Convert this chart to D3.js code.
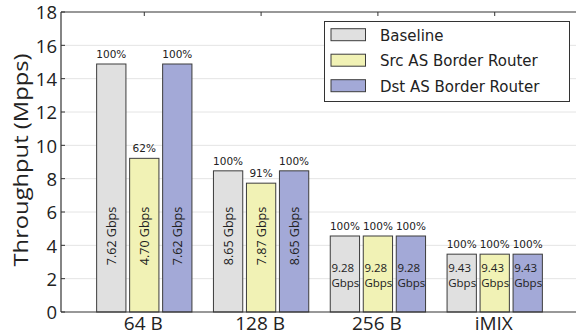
<!DOCTYPE html>
<html><head><meta charset="utf-8">
<script src="https://cdn.jsdelivr.net/npm/d3@7"></script>
<style>body{margin:0;background:#fff}svg{display:block}</style>
</head><body>
<script>
const categories = ["64 B", "128 B", "256 B", "iMIX"];
const seriesNames = ["Baseline", "Src AS Border Router", "Dst AS Border Router"];
const colors = ["#e0e0e0", "#f1f2b5", "#a3a9d7"];
const baseline = [14.88, 8.47, 4.56, 3.47];
const srcRouter = [9.22, 7.73, 4.56, 3.47];
const dstRouter = [14.88, 8.47, 4.56, 3.47];
const pctLabels = [["100%","62%","100%"],["100%","91%","100%"],["100%","100%","100%"],["100%","100%","100%"]];
const gbpsLabels = [["7.62","4.70","7.62"],["8.65","7.87","8.65"],["9.28","9.28","9.28"],["9.43","9.43","9.43"]];
const yTicks = [0,2,4,6,8,10,12,14,16,18];

(function () {
const W = 576, H = 334;
const svg = d3.select("body").append("svg").attr("width", W).attr("height", H);
const series = [baseline, srcRouter, dstRouter];

const pL = 61, pR = 578, pT = 12, pB = 312;
const y = d3.scaleLinear().domain([0, 18]).range([pB, pT]);
const x = d3.scaleLinear().domain([-0.713, 3.713]).range([pL, pR]);
const barW = 29.3, barStep = 33;

// gridlines
svg.append("g").selectAll("line").data(yTicks.filter(d => d > 0 && d < 18)).join("line")
  .attr("x1", pL).attr("x2", pR).attr("y1", d => y(d)).attr("y2", d => y(d))
  .attr("stroke", "#e4e4e4").attr("stroke-width", 1);

// bars
categories.forEach((c, i) => {
  series.forEach((s, j) => {
    const cx = x(i) + (j - 1) * barStep;
    svg.append("rect")
      .attr("x", cx - barW / 2).attr("y", y(s[i]))
      .attr("width", barW).attr("height", y(0) - y(s[i]))
      .attr("fill", colors[j]).attr("stroke", "#3c3c3c").attr("stroke-width", 1);
    svg.append("text")
      .attr("x", cx).attr("y", y(s[i]) - 6)
      .attr("text-anchor", "middle")
      .attr("font-family", "DejaVu Sans").attr("font-size", 10.5).attr("fill", "#222")
      .text(pctLabels[i][j]);
    if (i < 2) {
      const ty = y(4.56);
      svg.append("text")
        .attr("transform", `translate(${cx + 4.5},${ty}) rotate(-90)`)
        .attr("text-anchor", "middle")
        .attr("font-family", "Open Sans").attr("font-size", 12.5).attr("fill", "#222")
        .text(gbpsLabels[i][j] + " Gbps");
    } else {
      const t = svg.append("text")
        .attr("font-family", "Open Sans").attr("font-size", 11.5).attr("fill", "#222");
      t.append("tspan").attr("x", cx - 13.5).attr("y", y(2.4)).text(gbpsLabels[i][j]);
      t.append("tspan").attr("x", cx - 13.5).attr("y", y(2.4) + 14.5).text("Gbps");
    }
  });
});

// axes
const yAxis = d3.axisLeft(y).tickValues(yTicks).tickSize(0).tickPadding(4);
const gy = svg.append("g").attr("transform", `translate(${pL},0)`).call(yAxis);
gy.select(".domain").remove();
gy.selectAll("text").attr("font-family", "Open Sans").attr("font-size", 18.5).attr("fill", "#222").attr("dy", "0.36em");
svg.append("line").attr("x1", pL).attr("x2", pL).attr("y1", pT).attr("y2", pB).attr("stroke", "#333").attr("stroke-width", 1.2);
svg.append("line").attr("x1", pL).attr("x2", pR).attr("y1", pT).attr("y2", pT).attr("stroke", "#333").attr("stroke-width", 1.2);
svg.append("line").attr("x1", pL).attr("x2", pR).attr("y1", pB).attr("y2", pB).attr("stroke", "#333").attr("stroke-width", 1.2);
svg.append("g").selectAll("line").data(yTicks).join("line")
  .attr("x1", pL).attr("x2", pL + 4).attr("y1", d => y(d)).attr("y2", d => y(d))
  .attr("stroke", "#333").attr("stroke-width", 1);
svg.append("g").selectAll("line").data(categories).join("line")
  .attr("x1", (d, i) => x(i)).attr("x2", (d, i) => x(i)).attr("y1", pT).attr("y2", pT + 4)
  .attr("stroke", "#333").attr("stroke-width", 1);
svg.append("g").selectAll("text").data(categories).join("text")
  .attr("x", (d, i) => x(i) - 1).attr("y", 329.5)
  .attr("text-anchor", "middle")
  .attr("font-family", "Open Sans").attr("font-size", 19).attr("fill", "#222")
  .text(d => d);
svg.append("text")
  .attr("transform", `translate(27.5,160) rotate(-90)`)
  .attr("text-anchor", "middle")
  .attr("font-family", "Open Sans").attr("font-size", 20.5).attr("fill", "#222")
  .attr("textLength", 213).attr("lengthAdjust", "spacingAndGlyphs")
  .text("Throughput (Mpps)");

// legend
const lg = svg.append("g");
lg.append("rect").attr("x", 324.5).attr("y", 21.5).attr("width", 245).attr("height", 80)
  .attr("fill", "#fff").attr("stroke", "#333").attr("stroke-width", 1);
seriesNames.forEach((n, j) => {
  const by = 40.7 + j * 25.5;
  lg.append("rect").attr("x", 331).attr("y", by - 12).attr("width", 34.5).attr("height", 12)
    .attr("fill", colors[j]).attr("stroke", "#3c3c3c").attr("stroke-width", 1);
  lg.append("text").attr("x", 380).attr("y", by)
    .attr("font-family", "DejaVu Sans").attr("font-size", 15).attr("fill", "#222").text(n);
});
})();
</script>
</body></html>
